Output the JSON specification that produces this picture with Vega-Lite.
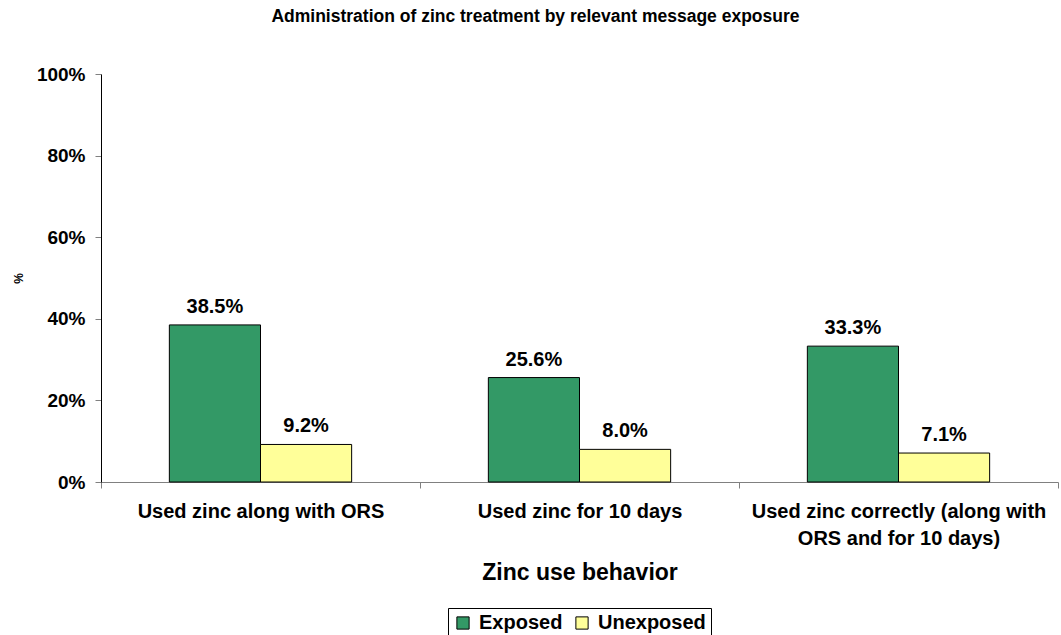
{
  "$schema": "https://vega.github.io/schema/vega-lite/v6.json",
  "autosize": {"type": "none"},
  "padding": {"left": 101, "top": 74, "right": 3, "bottom": 153},
  "width": 957,
  "height": 408,
  "background": "white",
  "title": {
    "text": "Administration of zinc treatment by relevant message exposure",
    "font": "Liberation Sans",
    "fontSize": 17.5,
    "fontWeight": "bold",
    "color": "black",
    "anchor": "middle",
    "frame": "bounds",
    "offset": 40
  },
  "config": {
    "view": {"stroke": null},
    "font": "Liberation Sans",
    "legend": {"layout": {"bottom": {"anchor": "middle"}}}
  },
  "data": {
    "values": [
      {"behavior": "Used zinc along with ORS", "group": "Exposed", "pct": 38.5},
      {"behavior": "Used zinc along with ORS", "group": "Unexposed", "pct": 9.2},
      {"behavior": "Used zinc for 10 days", "group": "Exposed", "pct": 25.6},
      {"behavior": "Used zinc for 10 days", "group": "Unexposed", "pct": 8.0},
      {"behavior": "Used zinc correctly (along with ORS and for 10 days)", "group": "Exposed", "pct": 33.3},
      {"behavior": "Used zinc correctly (along with ORS and for 10 days)", "group": "Unexposed", "pct": 7.1}
    ]
  },
  "transform": [
    {"calculate": "format(datum.pct, '.1f') + '%'", "as": "pctLabel"}
  ],
  "encoding": {
    "x": {
      "field": "behavior",
      "type": "nominal",
      "sort": null,
      "scale": {"paddingInner": 0, "paddingOuter": 0},
      "axis": {
        "title": "Zinc use behavior",
        "titleFont": "Liberation Sans",
        "titleFontSize": 23,
        "titleFontWeight": "bold",
        "titleColor": "black",
        "titlePadding": 13,
        "labelAngle": 0,
        "labelFont": "Liberation Sans",
        "labelFontSize": 20,
        "labelFontWeight": "bold",
        "labelColor": "black",
        "labelPadding": 13,
        "labelLineHeight": 27,
        "labelLimit": 400,
        "labelExpr": "datum.label == 'Used zinc correctly (along with ORS and for 10 days)' ? ['Used zinc correctly (along with', 'ORS and for 10 days)'] : datum.label",
        "tickBand": "extent",
        "tickSize": 6,
        "tickColor": "#808080",
        "domainColor": "#808080",
        "grid": false
      }
    },
    "xOffset": {
      "field": "group",
      "type": "nominal",
      "scale": {"paddingInner": 0, "paddingOuter": 0.75}
    }
  },
  "layer": [
    {
      "mark": {"type": "bar", "stroke": "black", "strokeWidth": 1},
      "encoding": {
        "y": {
          "field": "pct",
          "type": "quantitative",
          "scale": {"domain": [0, 100]},
          "axis": {
            "title": "%",
            "titleFont": "Liberation Sans",
            "titleFontSize": 12,
            "titleFontWeight": "bold",
            "titleColor": "black",
            "titlePadding": 11,
            "values": [0, 20, 40, 60, 80, 100],
            "labelExpr": "datum.value + '%'",
            "labelFont": "Liberation Sans",
            "labelFontSize": 19,
            "labelFontWeight": "bold",
            "labelColor": "black",
            "labelPadding": 10,
            "tickSize": 6,
            "tickColor": "#808080",
            "domainColor": "black",
            "grid": false
          }
        },
        "color": {
          "field": "group",
          "type": "nominal",
          "scale": {"domain": ["Exposed", "Unexposed"], "range": ["#339966", "#FFFF99"]},
          "legend": {
            "title": null,
            "orient": "bottom",
            "direction": "horizontal",
            "offset": 24,
            "symbolType": "square",
            "symbolSize": 150,
            "symbolStrokeColor": "black",
            "symbolStrokeWidth": 1,
            "symbolOpacity": 1,
            "labelFont": "Liberation Sans",
            "labelFontSize": 20,
            "labelFontWeight": "bold",
            "labelColor": "black",
            "labelOffset": 6,
            "columnPadding": 9,
            "strokeColor": "black",
            "padding": 5
          }
        }
      }
    },
    {
      "mark": {"type": "text", "baseline": "alphabetic", "dy": -12, "font": "Liberation Sans", "fontSize": 20, "fontWeight": "bold", "color": "black"},
      "encoding": {
        "y": {"field": "pct", "type": "quantitative"},
        "text": {"field": "pctLabel", "type": "nominal"}
      }
    }
  ]
}
